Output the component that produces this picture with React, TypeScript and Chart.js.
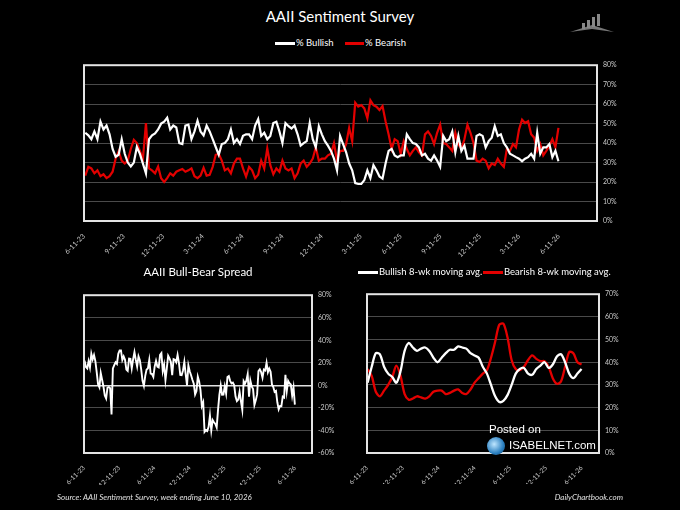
import React, { useEffect, useRef } from "react";
import { Chart, registerables } from "chart.js";

Chart.register(...registerables);

// ---------- data ----------
const AXIS_START = "2023-06-11";
const FIRST_SURVEY = "2023-06-14";
const AXIS_END_DAYS = 1184;
const MA_STEP_WEEKS = 3;

const topTickLabels = ["6-11-23", "9-11-23", "12-11-23", "3-11-24", "6-11-24", "9-11-24", "12-11-24", "3-11-25", "6-11-25", "9-11-25", "12-11-25", "3-11-26", "6-11-26"];
const bottomTickLabels = ["6-11-23", "12-11-23", "6-11-24", "12-11-24", "6-11-25", "12-11-25", "6-11-26"];

const bullish = [
  45.3, 44, 42, 46, 42, 51, 47, 49, 44.5, 37, 33, 34, 42, 34.5, 30, 28, 30, 38, 34.5, 29.5,
  24.5, 42, 44, 45, 47, 50, 51, 53, 47, 49, 48, 40, 39.5, 49, 49.5, 42, 46, 51.5, 46, 44,
  49, 46, 42, 38, 34, 39.5, 40, 42, 47, 40, 42,
  39.5, 43.7, 44.5, 44.5, 42, 49, 52.3, 43.7, 45.3, 42, 43.7, 50.3, 51, 46, 40, 50.3, 48.7, 47.5, 49, 44.5,
  38.7, 40, 41, 50.3, 42, 37.8, 48.7, 44.5, 41, 38.7, 36, 32, 26, 43.7, 39.5, 35.3, 29.5, 26, 19.5, 19,
  19, 21, 26, 22, 28.7, 26, 22.8, 21.7, 29.5, 36, 37, 33.7, 32.8, 33.7, 33.7,
  44.5, 42, 40, 39.5, 37.8, 33.7, 34.5, 32, 31, 33.7, 31, 27.8, 43.7, 41, 42, 46, 35.3, 43.7, 36, 38.7,
  32, 32, 32, 43.7, 44.5, 43.7, 37.8, 41, 42.8, 48.7, 43.7, 44.5, 40, 37.8, 34.5, 33.7, 32.8, 32, 30.7, 32,
  32.8, 34.5, 32, 45.3, 34.5, 37.8, 37.8, 39.5, 32.8, 36, 30.7,
];

const bearish = [
  23.3, 27.8, 27, 24.5, 26, 23, 24, 22, 23, 25.3, 32, 35.7, 31, 29.5, 31, 37, 41.7, 40, 36, 32,
  50.3, 27, 26, 24.5, 28, 22, 20, 22, 24.5, 23.3, 25.3, 26, 26.7, 25.3, 26, 27, 23, 22, 23.3, 27.3,
  23.3, 23.7, 27.8, 34, 34.5, 31, 26, 27, 24.5, 29.5, 32,
  32, 27, 22.8, 27.8, 26, 22, 23.7, 31, 27, 37.3, 28.7, 24, 27, 25.3, 31, 27, 26, 27, 22, 24.5,
  29.5, 31, 27.8, 29.5, 32, 37.8, 31, 32, 32, 33.7, 34.5, 40, 31, 36, 36, 39.5, 47.8, 41, 60.7, 58.7,
  59.5, 57.8, 52.8, 62, 59.5, 58.7, 57, 59, 51.2, 44.5, 37, 42, 41, 34.5, 41,
  37, 33.7, 36, 37.8, 35.3, 33.7, 44.5, 46, 43.7, 39.5, 45.3, 49.5, 40, 39.5, 37.8, 36, 45.3, 39.5, 37, 42,
  49.5, 45.3, 40, 31, 30.3, 32, 31, 27, 29.5, 28.7, 32, 29.5, 27.8, 37, 36, 39.5, 37.8, 47, 52, 50.3,
  51.2, 44.5, 42.8, 36, 39.5, 33.7, 36, 38.7, 42, 37.8, 47.8,
];

const spread = [
  22, 16.2, 15, 21.5, 16, 28, 23, 27, 21.5, 11.7, 1, -1.7, 11, 5, -1, -9, -11.7, -2, -1.5, -2.5,
  -25.8, 15, 18, 20.5, 19, 28, 31, 31, 22.5, 25.7, 22.7, 14, 12.8, 23.7, 23.5, 15, 23, 29.5, 22.7, 16.7,
  25.7, 22.3, 14.2, 4, -0.5, 8.5, 14, 15, 22.5, 10.5, 10,
  7.5, 16.7, 21.7, 16.7, 16, 27, 28.6, 12.7, 18.3, 4.7, 15, 26.3, 24, 20.7, 9, 23.3, 22.7, 20.5, 27, 20,
  9.2, 9, 13.2, 20.8, 10, 0, 17.7, 12.5, 9, 5, 1.5, -8, -5, 7.7, 3.5, -4.2, -18.3, -15, -41.2, -39.7,
  -40.5, -36.8, -26.8, -40, -30.8, -32.7, -34.2, -37.3, -21.7, -8.5, 0, -8.3, -8.2, -0.8, -7.3,
  7.5, 8.3, 4, 1.7, 2.5, 0, -10, -14, -12.7, -5.8, -14.3, -21.7, 3.7, 1.5, 4.2, 10, -10, 4.2, -1, -3.3,
  -17.5, -13.3, -8, 12.7, 14.2, 11.7, 6.8, 14, 13.3, 20, 11.7, 15, 12.2, 0.8, -1.5, -5.8, -5, -15, -21.3, -18.3,
  -18.4, -10, -10.8, 9.3, -5, 4.1, 1.8, 0.8, -9.2, -1.8, -17.1,
];

// 8-week moving averages, read every 3rd week
const bullishMA = [
  31, 38, 44, 43.5, 38, 35, 33.5, 31, 36, 45, 48.5, 46.5, 45, 46, 46.5, 45, 42, 40, 42, 44,
  45.5, 45.5, 47, 46.5, 46, 44, 43, 42, 38, 35, 30, 25, 22.5, 23, 25.5, 30, 35, 37, 37.5, 35,
  34.5, 37, 38.5, 40, 37.5, 39, 42.5, 43.5, 40, 35, 33, 35, 37,
];
const bearishMA = [
  37, 34, 27, 25, 27.5, 30, 33.5, 38.5, 34, 26, 23.5, 24, 25, 24.5, 24, 25, 27, 27.5, 27.5, 26,
  26.5, 27.5, 28, 26.5, 26, 28, 31, 33, 35, 36.5, 42, 49, 56.5, 57, 51, 41, 37, 36.5, 38, 41,
  43, 41.5, 40.5, 40.5, 38, 33, 30.5, 31.5, 38, 44.5, 44, 40, 39,
];

// ---------- helpers ----------
const DAY = 86400000;
const t0 = Date.parse(AXIS_START + "T00:00:00Z");
const firstDay = (Date.parse(FIRST_SURVEY + "T00:00:00Z") - t0) / DAY;
const labelToDays = (s: string) => {
  const [m, d, y] = s.split("-").map(Number);
  return Math.round((Date.UTC(2000 + y, m - 1, d) - t0) / DAY);
};
const weekly = (arr: number[], step = 1) => arr.map((v, i) => ({ x: firstDay + 7 * step * i, y: v }));

const FONT = "Lato, 'Open Sans', sans-serif";
const ARIAL = "'Liberation Sans', Arial, sans-serif";
const RED = "#e30000";
const WHITE = "#ffffff";
const GRID = "#4a4a4a";
const TICK = "#c8c8c8";

const framePlugin = {
  id: "frame",
  afterDatasetsDraw(chart: any) {
    const { ctx, chartArea: a } = chart;
    ctx.save();
    ctx.strokeStyle = "#e4e4e4";
    ctx.lineWidth = 2;
    ctx.strokeRect(a.left, a.top, a.right - a.left, a.bottom - a.top);
    ctx.restore();
  },
};

function xAxis(labels: string[], size: number, height: number) {
  const days = labels.map(labelToDays);
  return {
    type: "linear",
    min: 0,
    max: AXIS_END_DAYS,
    grid: { display: false },
    border: { display: false },
    afterBuildTicks: (scale: any) => {
      scale.ticks = days.map((v) => ({ value: v }));
    },
    afterFit: (scale: any) => {
      scale.height = height;
    },
    ticks: {
      autoSkip: false,
      minRotation: 45,
      maxRotation: 45,
      padding: 3,
      color: TICK,
      font: { family: FONT, size },
      callback: (v: number) => {
        const k = days.indexOf(Math.round(v));
        return k >= 0 ? labels[k] : "";
      },
    },
  };
}

function yAxis(min: number, max: number, step: number, width: number, zeroBright = false) {
  return {
    position: "right",
    min,
    max,
    grid: {
      drawTicks: false,
      lineWidth: (c: any) => (zeroBright && c.tick && c.tick.value === 0 ? 1.6 : 1),
      color: (c: any) => (zeroBright && c.tick && c.tick.value === 0 ? "#e0e0e0" : GRID),
    },
    border: { display: false },
    afterFit: (scale: any) => {
      scale.width = width;
    },
    ticks: {
      stepSize: step,
      padding: 6,
      color: TICK,
      font: { family: FONT, size: 7 },
      callback: (v: number) => v + "%",
    },
  };
}

function line(data: any[], color: string, width = 2, tension = 0) {
  return {
    data,
    borderColor: color,
    backgroundColor: color,
    borderWidth: width,
    pointRadius: 0,
    tension,
    fill: false,
  };
}

function baseOptions(padding: any, scales: any) {
  return {
    responsive: false,
    maintainAspectRatio: false,
    animation: false,
    layout: { padding },
    plugins: { legend: { display: false }, tooltip: { enabled: false }, title: { display: false } },
    scales,
  };
}

export default function App() {
  const topRef = useRef<HTMLCanvasElement>(null);
  const leftRef = useRef<HTMLCanvasElement>(null);
  const rightRef = useRef<HTMLCanvasElement>(null);

  useEffect(() => {
    Chart.defaults.font.family = FONT;
    const charts: Chart[] = [];
    charts.push(
      new Chart(topRef.current!, {
        type: "line",
        data: { datasets: [line(weekly(bullish), WHITE, 2.2), line(weekly(bearish), RED, 2.2)] as any },
        options: baseOptions({ left: 84, top: 7, right: 0, bottom: 0 }, {
          x: xAxis(topTickLabels, 7, 49),
          y: yAxis(0, 80, 10, 83),
        }) as any,
        plugins: [framePlugin],
      })
    );
    charts.push(
      new Chart(leftRef.current!, {
        type: "line",
        data: { datasets: [line(weekly(spread), WHITE, 1.9)] as any },
        options: baseOptions({ left: 84, top: 7, right: 0, bottom: 0 }, {
          x: xAxis(bottomTickLabels, 6.5, 32),
          y: yAxis(-60, 80, 20, 28, true),
        }) as any,
        plugins: [framePlugin],
      })
    );
    charts.push(
      new Chart(rightRef.current!, {
        type: "line",
        data: {
          datasets: [
            line(weekly(bullishMA, MA_STEP_WEEKS), WHITE, 2.3, 0.3),
            line(weekly(bearishMA, MA_STEP_WEEKS), RED, 2.3, 0.3),
          ] as any,
        },
        options: baseOptions({ left: 27, top: 7, right: 0, bottom: 0 }, {
          x: xAxis(bottomTickLabels, 6.5, 31),
          y: yAxis(0, 70, 10, 81),
        }) as any,
        plugins: [framePlugin],
      })
    );
    return () => charts.forEach((c) => c.destroy());
  }, []);

  const abs = (s: any): React.CSSProperties => ({ position: "absolute", ...s });
  const legendLine = (left: number, top: number, w: number, color: string) => (
    <div style={abs({ left, top, width: w, height: 2.5, background: color })} />
  );
  const txt = (left: number, top: number, text: string, size: number, extra: any = {}) => (
    <div style={abs({ left, top, fontSize: size, fontFamily: FONT, color: "#fff", whiteSpace: "nowrap", lineHeight: 1, ...extra })}>{text}</div>
  );

  return (
    <div style={abs({ left: 0, top: 0, width: 680, height: 510, background: "#000", overflow: "hidden" })}>
      {/* title */}
      <div style={abs({ left: 0, top: 9, width: 680, textAlign: "center", fontFamily: FONT, fontSize: 15, color: "#fff", lineHeight: 1 })}>
        AAII Sentiment Survey
      </div>
      {/* logo */}
      <svg style={abs({ left: 568, top: 12, width: 48, height: 22 })} viewBox="0 0 48 22">
        <polygon points="2,20 24,13 46,20 24,17" fill="#777" />
        <rect x="14" y="11" width="3" height="6" fill="#888" />
        <rect x="19" y="8" width="3" height="8" fill="#888" />
        <rect x="24" y="5" width="3" height="10" fill="#888" />
        <rect x="29" y="2" width="3" height="12" fill="#888" />
      </svg>
      {/* top legend */}
      {legendLine(275, 42, 20, WHITE)}
      {txt(296, 38, "% Bullish", 9.5)}
      {legendLine(345, 42, 19, RED)}
      {txt(365, 38, "% Bearish", 9.5)}

      <canvas ref={topRef} width={680} height={215} style={abs({ left: 0, top: 55, width: 680, height: 215 })} />

      {/* bottom-left title */}
      <div style={abs({ left: 84, top: 266, width: 228, textAlign: "center", fontFamily: FONT, fontSize: 11.5, color: "#fff", lineHeight: 1 })}>
        AAII Bull-Bear Spread
      </div>
      <canvas ref={leftRef} width={340} height={200} style={abs({ left: 0, top: 285, width: 340, height: 200 })} />

      {/* bottom-right legend */}
      {legendLine(358, 271, 20, WHITE)}
      {txt(379, 267, "Bullish 8-wk moving avg.", 9.5)}
      {legendLine(483, 271, 20, RED)}
      {txt(504, 267, "Bearish 8-wk moving avg.", 9.5)}
      <canvas ref={rightRef} width={340} height={200} style={abs({ left: 340, top: 284, width: 340, height: 200 })} />

      {/* watermark */}
      {txt(489, 424, "Posted on", 11.5, { fontFamily: ARIAL })}
      <div style={abs({ left: 487, top: 437, width: 18, height: 18, borderRadius: 9, background: "radial-gradient(circle at 40% 40%, #bfe6ff, #2a7fc0 60%, #16466e)" })} />
      {txt(509, 440, "ISABELNET.com", 11.5, { fontFamily: ARIAL })}

      {/* footer */}
      {txt(57, 493, "Source: AAII Sentiment Survey, week ending June 10, 2026", 8, { fontStyle: "italic", color: "#e0e0e0" })}
      <div style={abs({ right: 57, top: 493, fontFamily: FONT, fontSize: 8, fontStyle: "italic", color: "#e0e0e0", lineHeight: 1 })}>
        DailyChartbook.com
      </div>
    </div>
  );
}
